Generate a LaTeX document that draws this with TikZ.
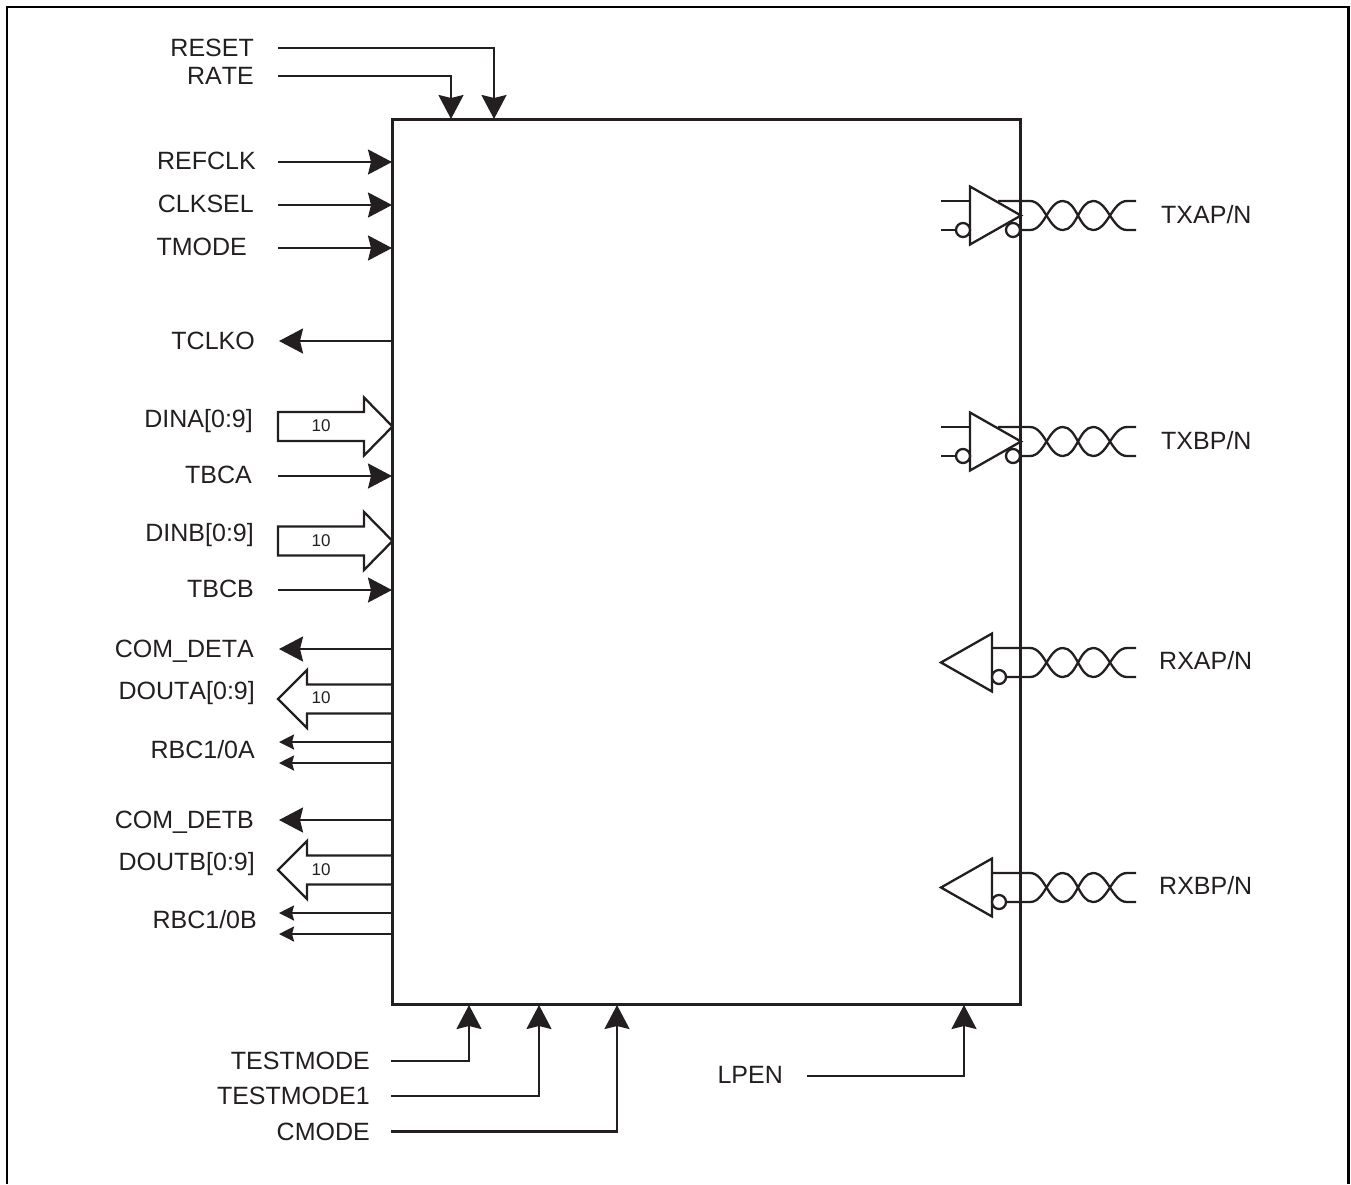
\documentclass[tikz,border=0pt]{standalone}
\usepackage{fontspec}
\setmainfont[Kerning=Off]{Liberation Sans}
\usetikzlibrary{arrows.meta}
\definecolor{ink}{HTML}{231F20}
\tikzset{
 x=1pt,y=-1pt,
 wire/.style={line width=2.3pt,line cap=butt,draw=ink},
 sig/.style={wire,-{Stealth[length=24pt,width=25pt,inset=3pt]}},
 sigs/.style={wire,-{Stealth[length=15pt,width=15pt,inset=2pt]}},
 lbl/.style={inner sep=0pt,font=\fontsize{25}{28}\selectfont,text=ink},
 lblr/.style={lbl,anchor=base east},
 lbll/.style={lbl,anchor=base west},
 bus/.style={font=\fontsize{17}{20}\selectfont,inner sep=0pt,text=ink},
 bubble/.style={circle,draw=ink,line width=2.3pt,fill=white,minimum size=14pt,inner sep=0pt,outer sep=0pt},
}
\newcommand{\twistpaths}[3]{% #1 start of upper wire, #2 start of lower wire, #3 middle y
 \draw[wire] (#1,#3-14.5) -- (1030,#3-14.5) .. controls (1045,#3-14.5) and (1048,#3+14.5) .. (1063,#3+14.5)
   .. controls (1077,#3+14.5) and (1079,#3-14.5) .. (1093,#3-14.5) .. controls (1108,#3-14.5) and (1112,#3+14.5) .. (1127,#3+14.5) -- (1136,#3+14.5);
 \draw[wire] (#2,#3+14.5) -- (1030,#3+14.5) .. controls (1045,#3+14.5) and (1048,#3-14.5) .. (1063,#3-14.5)
   .. controls (1077,#3-14.5) and (1079,#3+14.5) .. (1093,#3+14.5) .. controls (1108,#3+14.5) and (1112,#3-14.5) .. (1127,#3-14.5) -- (1136,#3-14.5);
}
\begin{document}
\begin{tikzpicture}
\useasboundingbox (0,0) rectangle (1351,1184);
\draw[line width=2.8pt,draw=black] (7,1184) -- (7,7) -- (1348.5,7) -- (1348.5,1184);
\node[draw=ink,line width=2.2pt,minimum width=628pt,minimum height=885pt,inner sep=0pt,outer sep=0pt,anchor=north west] (chip) at (392.5,119.5) {};
% top
\coordinate (pa) at (494,119);\coordinate (pb) at (451,119);
\node[lblr] (reset) at (254,56) {RESET};
\node[lblr] (rate) at (254,84) {RATE};
\coordinate (reset0) at (278,48);\coordinate (rate0) at (278,76);
\draw[sig] (reset0) -| (pa);
\draw[sig] (rate0) -| (pb);
% left inputs
\foreach \nm/\t/\y/\xe in {refclk/REFCLK/162/256,clksel/CLKSEL/205/254,tmode/TMODE/248/247,tbca/TBCA/476/252,tbcb/TBCB/590/254}{
 \node[lblr] (\nm) at (\xe,\y+7.5) {\t};
 \coordinate (\nm0) at (278,\y);\coordinate (\nm1) at (392,\y);
 \draw[sig] (\nm0) -- (\nm1);
}
\foreach \nm/\t/\y/\xe in {tclko/TCLKO/341/255,cdeta/COM\_DETA/649/254,cdetb/COM\_DETB/820/254}{
 \node[lblr] (\nm) at (\xe,\y+8) {\t};
 \coordinate (\nm0) at (392,\y);\coordinate (\nm1) at (279,\y);
 \draw[sig] (\nm0) -- (\nm1);
}
\foreach \nm/\t/\y/\ya/\yb/\xe in {rbca/RBC1\slash0A/750/742/763/255,rbcb/RBC1\slash0B/920/913/934/257}{
 \node[lblr] (\nm) at (\xe,\y+8) {\t};
 \coordinate (\nm a0) at (392,\ya);\coordinate (\nm a1) at (279,\ya);
 \coordinate (\nm b0) at (392,\yb);\coordinate (\nm b1) at (279,\yb);
 \draw[sigs] (\nm a0) -- (\nm a1);
 \draw[sigs] (\nm b0) -- (\nm b1);
}
% input buses
\foreach \nm/\t/\y/\xe/\ly/\ny in {dina/DINA[0:9]/426.5/253/419/426,dinb/DINB[0:9]/541/254/533/541}{
 \node[lblr] (\nm) at (\xe,\ly+8) {\t};
 \draw[wire,line join=miter] (278,\y-14.5) -- (364,\y-14.5) -- (364,\y-29) -- (392.5,\y) -- (364,\y+29) -- (364,\y+14.5) -- (278,\y+14.5) -- cycle;
 \node[bus] (\nm n) at (321,\ny) {10};
}
% output buses
\foreach \nm/\t/\y/\xe/\ly/\ny in {douta/DOUTA[0:9]/699/255/691/698,doutb/DOUTB[0:9]/870/255/862/870}{
 \node[lblr] (\nm) at (\xe,\ly+8) {\t};
 \draw[wire,line join=miter] (392,\y-14.5) -- (307,\y-14.5) -- (307,\y-29) -- (278,\y) -- (307,\y+29) -- (307,\y+14.5) -- (392,\y+14.5);
 \node[bus] (\nm n) at (321,\ny) {10};
}
% bottom
\node[lblr] (tm) at (370,1069) {TESTMODE};
\node[lblr] (tm1) at (370,1104) {TESTMODE1};
\node[lblr] (cm) at (370,1140) {CMODE};
\node[lblr] (lp) at (783,1083) {LPEN};
\coordinate (tm0) at (391,1061);\coordinate (tm1a) at (391,1096);\coordinate (cm0) at (391,1131.5);\coordinate (lp0) at (807,1076);
\coordinate (ptm) at (469,1005);\coordinate (ptm1) at (539,1005);\coordinate (pcm) at (617,1005);\coordinate (plp) at (964,1005);
\draw[sig] (tm0) -| (ptm);
\draw[sig] (tm1a) -| (ptm1);
\draw[sig] (cm0) -| (pcm);
\draw[sig] (lp0) -| (plp);
% transmit drivers
\foreach \nm/\t/\y in {txa/TXAP\slash N/215.5,txb/TXBP\slash N/441.5}{
 \node[lbll] (\nm) at (1161,\y+7.5) {\t};
 \draw[wire] (941,\y-14.5) -- (970,\y-14.5);
 \draw[wire] (941,\y+14.5) -- (956,\y+14.5);
 \twistpaths{998}{1006}{\y}
 \draw[wire,line join=miter,fill=white] (970,\y-29) -- (1021,\y) -- (970,\y+29) -- cycle;
 \node[bubble] (\nm i) at (963,\y+14.5) {};
 \node[bubble] (\nm o) at (1013,\y+14.5) {};
}
% receivers
\foreach \nm/\t/\y in {rxa/RXAP\slash N/662.5,rxb/RXBP\slash N/887.5}{
 \node[lbll] (\nm) at (1159,\y+7) {\t};
 \twistpaths{992}{1006}{\y}
 \draw[wire,line join=miter,fill=white] (992,\y-29) -- (941,\y) -- (992,\y+29) -- cycle;
 \node[bubble] (\nm i) at (999,\y+14.5) {};
}
\end{tikzpicture}
\end{document}
